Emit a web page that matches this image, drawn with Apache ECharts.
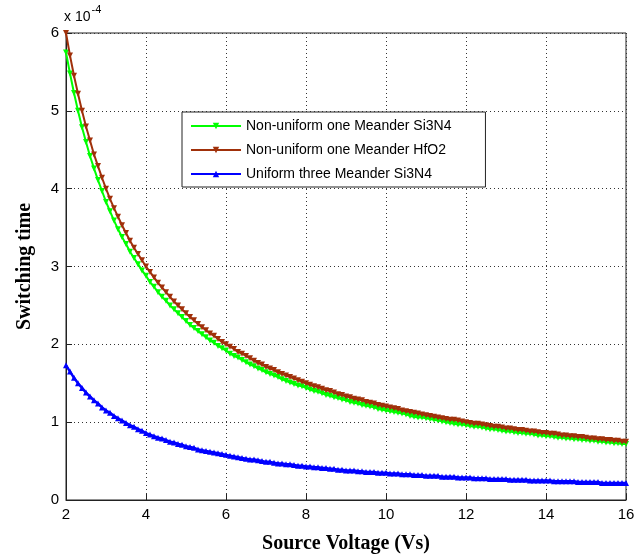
<!DOCTYPE html>
<html>
<head>
<meta charset="utf-8">
<script src="https://cdn.jsdelivr.net/npm/echarts@6/dist/echarts.min.js"></script>
<style>html,body{margin:0;padding:0;background:#fff;}#c{width:644px;height:560px;}</style>
</head>
<body>
<div id="c"></div>
<script>
// Source voltage (Vs)
const voltage = [
2.0,2.1,2.2,2.3,2.4,2.5,2.6,2.7,2.8,2.9,
3.0,3.1,3.2,3.3,3.4,3.5,3.6,3.7,3.8,3.9,
4.0,4.1,4.2,4.3,4.4,4.5,4.6,4.7,4.8,4.9,
5.0,5.1,5.2,5.3,5.4,5.5,5.6,5.7,5.8,5.9,
6.0,6.1,6.2,6.3,6.4,6.5,6.6,6.7,6.8,6.9,
7.0,7.1,7.2,7.3,7.4,7.5,7.6,7.7,7.8,7.9,
8.0,8.1,8.2,8.3,8.4,8.5,8.6,8.7,8.8,8.9,
9.0,9.1,9.2,9.3,9.4,9.5,9.6,9.7,9.8,9.9,
10.0,10.1,10.2,10.3,10.4,10.5,10.6,10.7,10.8,10.9,
11.0,11.1,11.2,11.3,11.4,11.5,11.6,11.7,11.8,11.9,
12.0,12.1,12.2,12.3,12.4,12.5,12.6,12.7,12.8,12.9,
13.0,13.1,13.2,13.3,13.4,13.5,13.6,13.7,13.8,13.9,
14.0,14.1,14.2,14.3,14.4,14.5,14.6,14.7,14.8,14.9,
15.0,15.1,15.2,15.3,15.4,15.5,15.6,15.7,15.8,15.9,
16.0];

// Switching time, in units of 1e-4
const nonUniformSi3N4 = [
5.75,5.48,5.23,5.00,4.79,4.60,4.42,4.26,4.11,3.97,
3.83,3.71,3.59,3.48,3.38,3.29,3.19,3.11,3.03,2.95,
2.88,2.80,2.74,2.67,2.61,2.56,2.50,2.45,2.40,2.35,
2.30,2.25,2.21,2.17,2.13,2.09,2.05,2.02,1.98,1.95,
1.92,1.88,1.85,1.83,1.80,1.77,1.74,1.72,1.69,1.67,
1.64,1.62,1.60,1.58,1.55,1.53,1.51,1.49,1.47,1.46,
1.44,1.42,1.40,1.39,1.37,1.35,1.34,1.32,1.31,1.29,
1.28,1.26,1.25,1.24,1.22,1.21,1.20,1.19,1.17,1.16,
1.15,1.14,1.13,1.12,1.11,1.10,1.08,1.07,1.06,1.06,
1.05,1.04,1.03,1.02,1.01,1.00,0.99,0.98,0.97,0.97,
0.96,0.95,0.94,0.94,0.93,0.92,0.91,0.91,0.90,0.89,
0.88,0.88,0.87,0.86,0.86,0.85,0.85,0.84,0.83,0.83,
0.82,0.82,0.81,0.80,0.80,0.79,0.79,0.78,0.78,0.77,
0.77,0.76,0.76,0.75,0.75,0.74,0.74,0.73,0.73,0.72,
0.72];

const nonUniformHfO2 = [
6.00,5.71,5.45,5.22,5.00,4.80,4.62,4.44,4.29,4.14,
4.00,3.87,3.75,3.64,3.53,3.43,3.33,3.24,3.16,3.08,
3.00,2.93,2.86,2.79,2.73,2.67,2.61,2.55,2.50,2.45,
2.40,2.35,2.31,2.26,2.22,2.18,2.14,2.11,2.07,2.03,
2.00,1.97,1.94,1.90,1.88,1.85,1.82,1.79,1.76,1.74,
1.71,1.69,1.67,1.64,1.62,1.60,1.58,1.56,1.54,1.52,
1.50,1.48,1.46,1.45,1.43,1.41,1.40,1.38,1.36,1.35,
1.33,1.32,1.30,1.29,1.28,1.26,1.25,1.24,1.22,1.21,
1.20,1.19,1.18,1.17,1.15,1.14,1.13,1.12,1.11,1.10,
1.09,1.08,1.07,1.06,1.05,1.04,1.03,1.03,1.02,1.01,
1.00,0.99,0.98,0.98,0.97,0.96,0.95,0.94,0.94,0.93,
0.92,0.92,0.91,0.90,0.90,0.89,0.88,0.88,0.87,0.86,
0.86,0.85,0.85,0.84,0.83,0.83,0.82,0.82,0.81,0.81,
0.80,0.79,0.79,0.78,0.78,0.77,0.77,0.76,0.76,0.75,
0.75];

const uniformSi3N4 = [
1.73,1.65,1.57,1.50,1.44,1.38,1.33,1.28,1.24,1.19,
1.15,1.12,1.08,1.05,1.02,0.99,0.96,0.94,0.91,0.89,
0.86,0.84,0.82,0.80,0.79,0.77,0.75,0.74,0.72,0.71,
0.69,0.68,0.67,0.65,0.64,0.63,0.62,0.61,0.60,0.59,
0.58,0.57,0.56,0.55,0.54,0.53,0.52,0.52,0.51,0.50,
0.49,0.49,0.48,0.47,0.47,0.46,0.46,0.45,0.44,0.44,
0.43,0.43,0.42,0.42,0.41,0.41,0.40,0.40,0.39,0.39,
0.38,0.38,0.38,0.37,0.37,0.36,0.36,0.36,0.35,0.35,
0.35,0.34,0.34,0.34,0.33,0.33,0.33,0.32,0.32,0.32,
0.31,0.31,0.31,0.31,0.30,0.30,0.30,0.30,0.29,0.29,
0.29,0.29,0.28,0.28,0.28,0.28,0.27,0.27,0.27,0.27,
0.27,0.26,0.26,0.26,0.26,0.26,0.25,0.25,0.25,0.25,
0.25,0.25,0.24,0.24,0.24,0.24,0.24,0.24,0.23,0.23,
0.23,0.23,0.23,0.23,0.22,0.22,0.22,0.22,0.22,0.22,
0.22];

const seriesNames = ['Non-uniform one Meander Si3N4','Non-uniform one Meander HfO2','Uniform three Meander Si3N4'];
const xTicks = [2,4,6,8,10,12,14,16];
const yTicks = [0,1,2,3,4,5,6];

const pairs = ys => voltage.map((v,i) => [v, ys[i]]);

const chart = echarts.init(document.getElementById('c'), null, {renderer:'canvas'});
const tickFont = {color:'#000', fontFamily:'Liberation Sans, Arial, sans-serif', fontSize:15};
const dotted = {show:true, lineStyle:{color:'#333', type:[1,3], width:1}};

chart.setOption({
  animation:false,
  backgroundColor:'#fff',
  grid:{left:66, right:18, top:33, bottom:60, show:true, borderColor:'#222', borderWidth:1, backgroundColor:'transparent'},
  xAxis:{
    type:'value', min:xTicks[0], max:xTicks[xTicks.length-1], interval:2,
    axisLine:{show:true, onZero:false, lineStyle:{color:'#222'}},
    axisTick:{show:true, inside:true, length:6, lineStyle:{color:'#222'}},
    axisLabel:Object.assign({margin:7}, tickFont),
    splitLine:dotted,
    name:'Source Voltage (Vs)', nameLocation:'middle', nameGap:34,
    nameTextStyle:{fontFamily:'Liberation Serif, Times New Roman, serif', fontWeight:'bold', fontSize:20, color:'#000'}
  },
  yAxis:{
    type:'value', min:yTicks[0], max:yTicks[yTicks.length-1], interval:1,
    axisLine:{show:true, onZero:false, lineStyle:{color:'#222'}},
    axisTick:{show:true, inside:true, length:6, lineStyle:{color:'#222'}},
    axisLabel:Object.assign({margin:7}, tickFont),
    splitLine:dotted,
    name:'Switching time', nameLocation:'middle', nameGap:31,
    nameTextStyle:{fontFamily:'Liberation Serif, Times New Roman, serif', fontWeight:'bold', fontSize:20, color:'#000'}
  },
  legend:{
    orient:'vertical', left:182, top:112, width:300,
    data:seriesNames,
    backgroundColor:'#fff', borderColor:'#222', borderWidth:1,
    padding:[7,34,6,8], itemGap:10, itemWidth:50, itemHeight:8,
    textStyle:{fontFamily:'Liberation Sans, Arial, sans-serif', fontSize:14, color:'#000'}
  },
  graphic:[{
    type:'text', left:64, top:4,
    style:{
      text:'{a|x 10}{b|-4}',
      rich:{
        a:{fontFamily:'Liberation Sans, Arial, sans-serif', fontSize:14, fill:'#000', padding:[9,0,0,0]},
        b:{fontFamily:'Liberation Sans, Arial, sans-serif', fontSize:11, fill:'#000', padding:[0,0,7,1]}
      }
    }
  }],
  series:[
    {name:seriesNames[0], type:'line', data:pairs(nonUniformSi3N4), color:'#00ff00',
     symbol:'triangle', symbolRotate:180, symbolSize:6, lineStyle:{width:2}, z:2},
    {name:seriesNames[1], type:'line', data:pairs(nonUniformHfO2), color:'#a0300a',
     symbol:'triangle', symbolRotate:180, symbolSize:6, lineStyle:{width:2}, z:3},
    {name:seriesNames[2], type:'line', data:pairs(uniformSi3N4), color:'#0000ff',
     symbol:'triangle', symbolSize:6, lineStyle:{width:2.5}, z:4}
  ]
});
</script>
</body>
</html>
